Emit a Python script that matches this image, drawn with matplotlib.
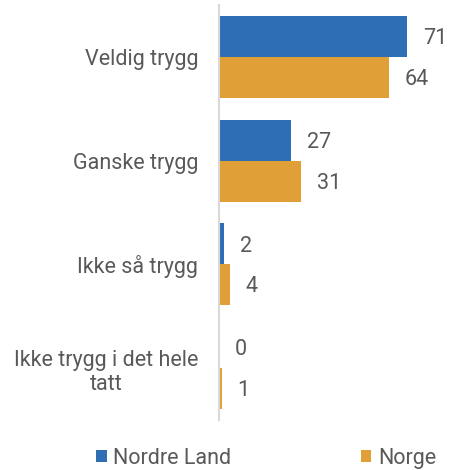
import matplotlib.pyplot as plt
import numpy as np

categories = ["Veldig trygg", "Ganske trygg", "Ikke så trygg", "Ikke trygg i det hele\ntatt"]
nordre_land = [71, 27, 2, 0]
norge = [64, 31, 4, 1]
series_names = ["Nordre Land", "Norge"]

BLUE = "#2E6EB5"
ORANGE = "#E09F37"
TEXT = "#595959"
FS = 15.5

plt.rcParams["font.family"] = ["Roboto", "DejaVu Sans"]

fig = plt.figure(figsize=(4.5, 4.7), dpi=100)
ax = fig.add_axes([0.4867, 0.1064, 0.4711, 0.8826])

y = np.arange(len(categories))
h = 0.395

bars_a = ax.barh(y - h / 2, nordre_land, height=h, color=BLUE, label=series_names[0])
bars_b = ax.barh(y + h / 2, norge, height=h, color=ORANGE, label=series_names[1])

# value labels just right of each bar end
for bars, vals in ((bars_a, nordre_land), (bars_b, norge)):
    for bar, v in zip(bars, vals):
        ax.annotate(str(v), (v, bar.get_y() + bar.get_height() / 2),
                    xytext=(11.5, -1.5), textcoords="offset points",
                    va="center", ha="left", fontsize=FS, color=TEXT)

ax.set_ylim(len(categories) - 0.5, -0.5)
ax.set_xlim(0, 80)
ax.set_yticks(y)
ax.set_yticklabels(categories, fontsize=FS, color=TEXT, multialignment="center")
ax.tick_params(axis="y", length=0, pad=15)
ax.set_xticks([])

for side in ("top", "right", "bottom"):
    ax.spines[side].set_visible(False)
ax.spines["left"].set_color("#D9D9D9")
ax.spines["left"].set_linewidth(1.5)

fig.legend(loc="center", bbox_to_anchor=(0.591, 0.025), ncol=2, frameon=False,
           fontsize=FS, labelcolor=TEXT, handlelength=0.5, handleheight=0.5,
           handletextpad=0.3, columnspacing=6.0)

fig.savefig("out.png", dpi=100)
